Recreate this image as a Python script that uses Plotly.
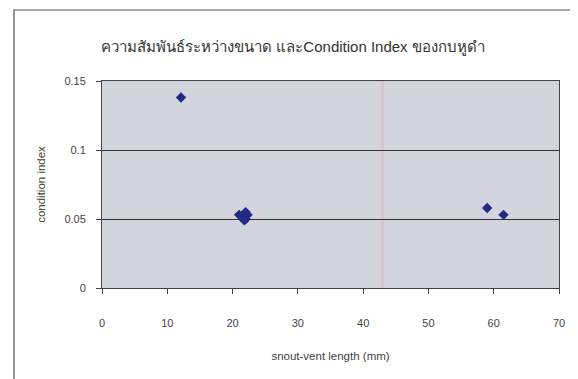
import plotly.graph_objects as go

# Data
snout_vent_length = [12.1, 21.0, 21.5, 22.0, 22.0, 22.3, 21.8, 59.0, 61.5]
condition_index = [0.138, 0.053, 0.052, 0.055, 0.050, 0.053, 0.049, 0.058, 0.053]
x_ticks = [0, 10, 20, 30, 40, 50, 60, 70]
y_ticks = [0, 0.05, 0.1, 0.15]
y_tick_labels = ["0", "0.05", "0.1", "0.15"]

title_text = "ความสัมพันธ์ระหว่างขนาด และCondition Index ของกบหูดำ"
font_main = "Liberation Sans, Arial, sans-serif"

W, H = 570, 371
L, R, T, B = 94, 19, 73, 91
pw, ph = W - L - R, H - T - B

fig = go.Figure()
fig.add_trace(go.Scatter(
    x=snout_vent_length, y=condition_index, mode="markers",
    marker=dict(symbol="diamond", size=8, color="#222a85",
                line=dict(width=0)),
    showlegend=False,
))

fig.update_layout(
    width=W, height=H,
    margin=dict(l=L, r=R, t=T, b=B),
    paper_bgcolor="white",
    plot_bgcolor="#d3d5de",
    title=dict(text=title_text, x=0.5, xanchor="center", y=1 - 39 / H, yanchor="middle",
               font=dict(family=font_main, size=15, color="#333333")),
    xaxis=dict(range=[0, 70], tickvals=x_ticks, showgrid=False, zeroline=False,
               showline=True, linecolor="#444444", linewidth=1, mirror=True,
               ticks="outside", ticklen=5, tickcolor="#444444",
               ticklabelstandoff=20,
               tickfont=dict(family=font_main, size=11, color="#444444"),
               title=dict(text="snout-vent length (mm)", standoff=23,
                          font=dict(family=font_main, size=11.5, color="#444444"))),
    yaxis=dict(range=[0, 0.15], tickvals=y_ticks, ticktext=y_tick_labels,
               showgrid=True, gridcolor="#333333", gridwidth=1, zeroline=False,
               showline=True, linecolor="#444444", linewidth=1, mirror=True,
               ticks="outside", ticklen=5, tickcolor="#444444",
               ticklabelstandoff=8,
               tickfont=dict(family=font_main, size=11, color="#444444"),
               title=dict(text="condition index", standoff=16,
                          font=dict(family=font_main, size=11.5, color="#444444"))),
    shapes=[
        dict(type="rect", xref="paper", yref="paper",
             x0=(6 - L) / pw, x1=(565 - L) / pw, y0=-0.6, y1=1 + (T - 2) / ph,
             line=dict(color="#555555", width=1.2), fillcolor="rgba(0,0,0,0)",
             layer="below"),
        dict(type="line", xref="x", yref="paper", x0=43, x1=43, y0=0, y1=1,
             line=dict(color="rgba(235,170,190,0.6)", width=2), layer="below"),
    ],
)

fig.write_html("out.html")
